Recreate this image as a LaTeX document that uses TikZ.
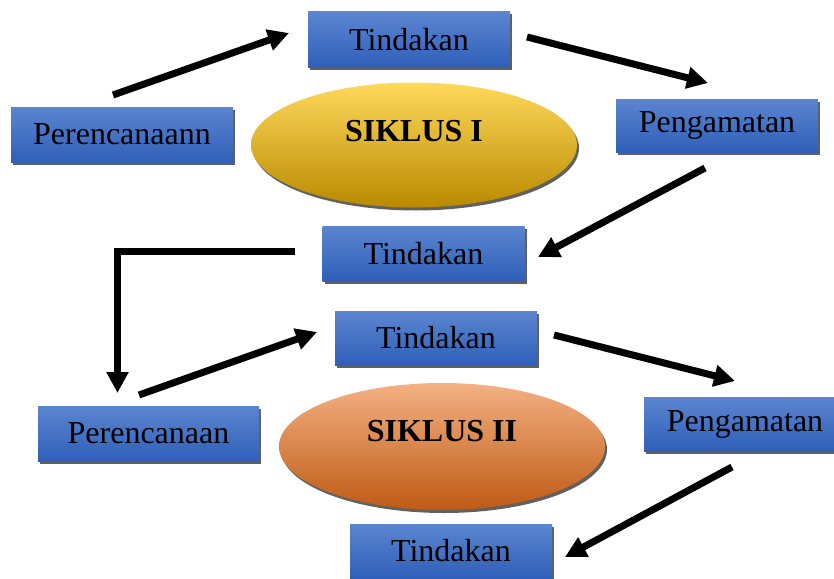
\documentclass[tikz,border=0pt]{standalone}
\usepackage{fontspec}
\setmainfont{Liberation Serif}
\usetikzlibrary{arrows.meta,shapes.geometric,shadows}
\definecolor{boxtop}{HTML}{5B85D0}
\definecolor{boxbot}{HTML}{2F5FB8}
\definecolor{goldtop}{HTML}{FFD95C}
\definecolor{goldmid}{HTML}{FFC107}
\definecolor{goldbot}{HTML}{B98A00}
\definecolor{orgtop}{HTML}{F4B183}
\definecolor{orgmid}{HTML}{ED7D31}
\definecolor{orgbot}{HTML}{BE5A14}
\definecolor{shadowgray}{HTML}{606060}
\tikzset{
  bluebox/.style={rectangle, inner sep=0pt, minimum height=55pt, minimum width=202pt,
    top color=boxtop, bottom color=boxbot, draw=none,
    drop shadow={shadow xshift=2pt, shadow yshift=-2.5pt, fill=shadowgray, opacity=1},
    font=\fontsize{32}{36}\selectfont},
  cyc/.style={ellipse, inner sep=0pt, minimum width=326pt, minimum height=125pt, draw=none,
    drop shadow={shadow xshift=2pt, shadow yshift=-3pt, fill=shadowgray, opacity=1}},
  cyctext/.style={font=\fontsize{32}{36}\selectfont\bfseries, inner sep=0pt},
  bigarrow/.style={line width=7pt, -{Triangle[length=21pt,width=21pt]}}
}
\begin{document}
\begin{tikzpicture}[x=1pt,y=-1pt]
\useasboundingbox (0,0) rectangle (834,578);
% ellipses
\node[cyc, top color=goldtop, middle color=goldmid, bottom color=goldbot] (e1) at (414,145) {};
\node[cyctext] (s1) at (414,131) {SIKLUS I};
\node[cyc, minimum height=127pt, top color=orgtop, middle color=orgmid, bottom color=orgbot] (e2) at (442,446.5) {};
\node[cyctext] (s2) at (442,431) {SIKLUS II};
% boxes
\node[bluebox] (t1) at (409,39.5) {Tindakan};
\node[bluebox, minimum width=222pt] (p1) at (122,134.5) {Perencanaann};
\node[bluebox, minimum height=53pt] (g1) at (717,125.5) {Pengamatan};
\node[bluebox] (t2) at (423.5,253.5) {Tindakan};
\node[bluebox, minimum height=54pt] (t3) at (436,338) {Tindakan};
\node[bluebox, minimum width=221pt] (p2) at (148.5,433.5) {Perencanaan};
\node[bluebox, minimum height=54pt] (g2) at (745,424) {Pengamatan};
\node[bluebox, minimum height=54pt] (t4) at (451,551) {Tindakan};
% arrow end points
\coordinate (a1s) at (113,95);
\coordinate (a1e) at (289,33);
\coordinate (a2s) at (527,37);
\coordinate (a2e) at (708,83);
\coordinate (a3s) at (705,168);
\coordinate (a3e) at (538,257);
\coordinate (a4s) at (295,251);
\coordinate (a4e) at (117.5,393);
\coordinate (a5s) at (139,395);
\coordinate (a5e) at (317,332);
\coordinate (a6s) at (554,335);
\coordinate (a6e) at (735,381);
\coordinate (a7s) at (732,467);
\coordinate (a7e) at (565,557);
\draw[bigarrow] (a1s) -- (a1e);
\draw[bigarrow] (a2s) -- (a2e);
\draw[bigarrow] (a3s) -- (a3e);
\draw[bigarrow] (a4s) -| (a4e);
\draw[bigarrow] (a5s) -- (a5e);
\draw[bigarrow] (a6s) -- (a6e);
\draw[bigarrow] (a7s) -- (a7e);
\end{tikzpicture}
\end{document}
